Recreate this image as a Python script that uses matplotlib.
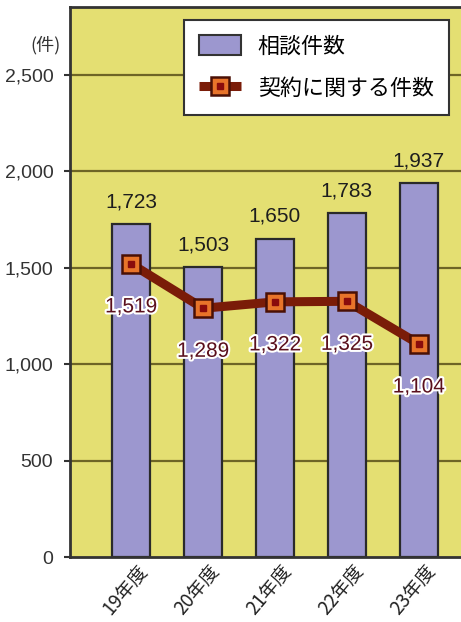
import matplotlib
matplotlib.use('Agg')
import matplotlib.pyplot as plt
import matplotlib.patheffects as pe
from matplotlib.patches import Patch
from matplotlib.lines import Line2D

# data
years = ['19年度', '20年度', '21年度', '22年度', '23年度']
consult = [1723, 1503, 1650, 1783, 1937]
contract = [1519, 1289, 1322, 1325, 1104]
yticks = [0, 500, 1000, 1500, 2000, 2500]

bg_yellow = '#e4df72'
bar_col = '#9c97cf'
line_col = '#7a1c08'
mark_fill = '#e8742a'
mark_core = '#8a0c0c'
jp = ['Noto Sans CJK JP', 'DejaVu Sans']
num = ['Liberation Sans', 'DejaVu Sans']

fig = plt.figure(figsize=(4.61, 6.22), dpi=100)
fig.patch.set_facecolor('white')
ax = fig.add_axes([70/461, 1 - 557/622, 410/461, 550/622])
ax.set_facecolor(bg_yellow)

x = list(range(len(years)))
ax.set_xlim(-0.85, 4.85)
ax.set_ylim(0, 2850)

#grid lines
for v in yticks[1:]:
	ax.axhline(v, color='#6e6526', lw=1.6, zorder=1)

ax.bar(x, consult, width=0.53, color=bar_col, edgecolor='#2a2a2a', lw=1.6, zorder=2)

ax.plot(x, contract, color=line_col, lw=6.5, zorder=3, solid_capstyle='butt')
ax.plot(x, contract, ls='none', marker='s', ms=13, mfc=mark_fill, mec='#4a1005', mew=1.8, zorder=4)
ax.plot(x, contract, ls='none', marker='s', ms=5, mfc=mark_core, mec=mark_core, zorder=5)

#value labels
for i in x:
	ax.annotate('{:,}'.format(consult[i]), (i, consult[i]), xytext=(0, 16), textcoords='offset points',
		ha='center', va='center', fontsize=15, family=num, color='#1e1e1e', zorder=6)
	ax.annotate('{:,}'.format(contract[i]), (i, contract[i]), xytext=(0, -31), textcoords='offset points',
		ha='center', va='center', fontsize=15, family=num, color='#5a0f1c', zorder=6,
		path_effects=[pe.withStroke(linewidth=3, foreground='white')])

#year labels
ax.set_xticks([])
for i in x:
	ax.annotate(years[i], (i + 0.3, 0), xycoords=('data', 'axes fraction'), xytext=(0, -3),
		textcoords='offset points', rotation=50, ha='right', va='top', fontsize=13.5,
		family=jp, color='#222222')

ax.set_yticks(yticks)
ax.set_yticklabels(['{:,}'.format(v) for v in yticks], family=num, fontsize=14, color='#333333')
ax.tick_params(axis='y', length=4, width=1.5, color='#333333', pad=8)

for s in ['left', 'top', 'bottom']:
	ax.spines[s].set_color('#333333')
	ax.spines[s].set_linewidth(2)
ax.spines['right'].set_visible(False)

fig.text(45/461, 1 - 45/622, '(件)', ha='center', va='center', fontsize=13, family=jp, color='#333333')

h_bar = Patch(facecolor=bar_col, edgecolor='#333333', lw=1.5)
h_line = (Line2D([], [], color=line_col, lw=6.5, solid_capstyle='butt'),
	Line2D([], [], ls='none', marker='s', ms=13, mfc=mark_fill, mec='#4a1005', mew=1.8),
	Line2D([], [], ls='none', marker='s', ms=5, mfc=mark_core, mec=mark_core))
leg = ax.legend([h_bar, h_line], ['相談件数', '契約に関する件数'], prop={'family': jp, 'size': 15.8},
	loc='upper right', bbox_to_anchor=(449/461, 1 - 20/622), bbox_transform=fig.transFigure,
	fancybox=False, framealpha=1, edgecolor='#333333', handlelength=1.9, handleheight=1.0,
	borderpad=0.7, labelspacing=0.9, handletextpad=0.75, borderaxespad=0)
leg.get_frame().set_linewidth(1.5)
leg.set_zorder(10)

fig.savefig('out.png', dpi=100)
